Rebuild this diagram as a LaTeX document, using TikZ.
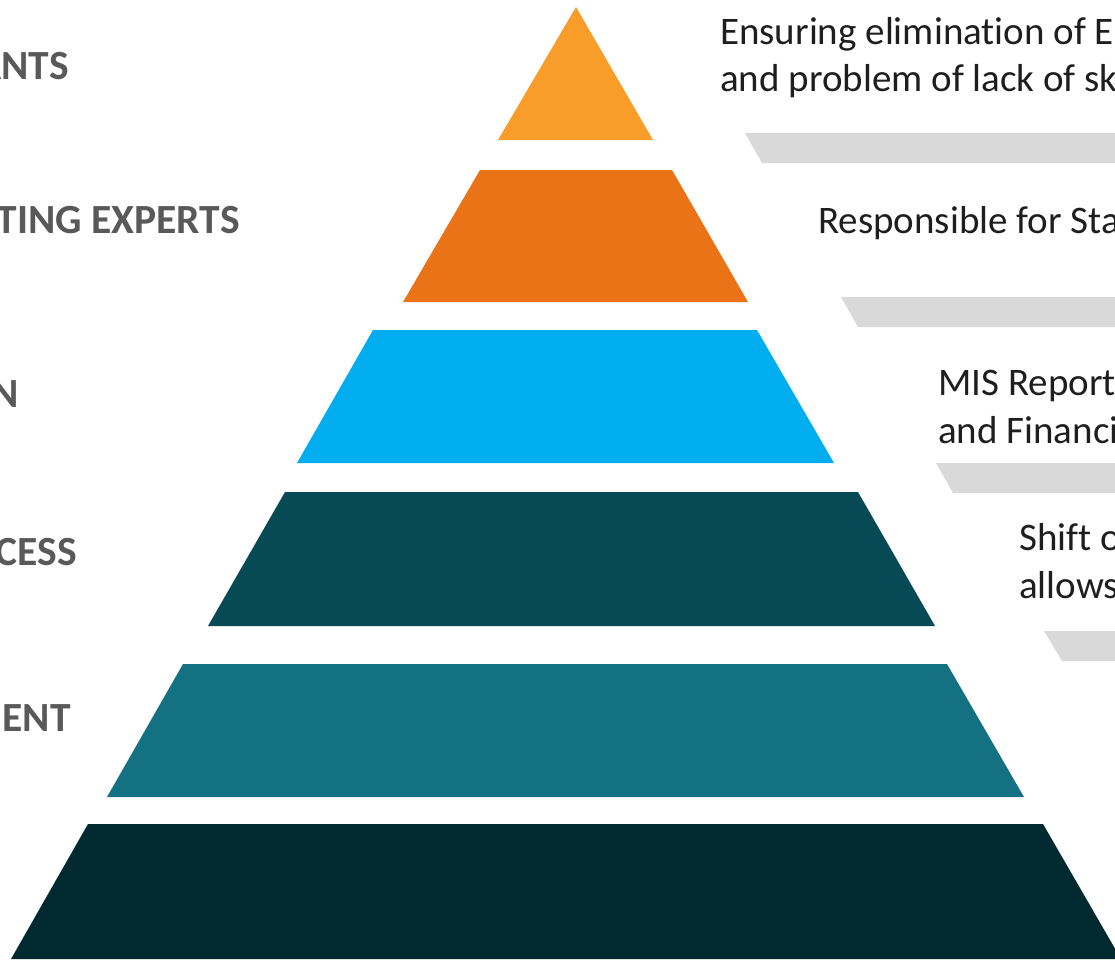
\documentclass[tikz,border=0pt]{standalone}
\usepackage{fontspec}
\setmainfont{Carlito}[RawFeature={-liga;-clig;-calt;-dlig}]
\definecolor{tipc}{HTML}{F89C2A}
\definecolor{orc}{HTML}{EB7317}
\definecolor{bluec}{HTML}{00AEEF}
\definecolor{darkc}{HTML}{074A56}
\definecolor{tealc}{HTML}{137182}
\definecolor{basec}{HTML}{002A30}
\definecolor{barc}{HTML}{D9D9D9}
\definecolor{labc}{HTML}{595959}
\definecolor{descc}{HTML}{1E1E1E}
\tikzset{
  layer/.style={fill=#1, draw=none},
  greybar/.style={fill=barc, draw=none},
  desctext/.style={anchor=base west, inner sep=0pt, text=descc, font=\fontsize{39}{47}\selectfont},
  labeltext/.style={anchor=base east, inner sep=0pt, text=labc, font=\fontsize{41.5}{48}\selectfont\bfseries}
}
\begin{document}
\begin{tikzpicture}[x=1pt,y=-1pt]
\useasboundingbox (0,0) rectangle (1115,959);
\clip (0,0) rectangle (1115,959);
% pyramid layers
\fill[layer=tipc] (576,7) -- (653,140) -- (498,140) -- cycle;
\fill[layer=orc] (480,170) -- (672,170) -- (748,302) -- (403,302) -- cycle;
\fill[layer=bluec] (373,330) -- (757,330) -- (834,463) -- (297,463) -- cycle;
\fill[layer=darkc] (285,492) -- (858,492) -- (935,626) -- (208,626) -- cycle;
\fill[layer=tealc] (183,664) -- (947,664) -- (1024,797) -- (107,797) -- cycle;
\fill[layer=basec] (88,824) -- (1043,824) -- (1121,959) -- (11,959) -- cycle;
% grey bars
\fill[greybar] (745,133) -- (1130,133) -- (1130,163) -- (762,163) -- cycle;
\fill[greybar] (841,297) -- (1130,297) -- (1130,327) -- (858,327) -- cycle;
\fill[greybar] (936,463) -- (1130,463) -- (1130,493) -- (953,493) -- cycle;
\fill[greybar] (1044,631) -- (1130,631) -- (1130,661) -- (1062,661) -- cycle;
% descriptions
\node[desctext] (d1a) at (720,44) {Ensuring elimination of E};
\node[desctext] (d1b) at (720,91) {and problem of lack of sk};
\node[desctext] (d2a) at (818,233) {Responsible for Sta};
\node[desctext] (d3a) at (938,395) {MIS Report};
\node[desctext] (d3b) at (938,443) {and Financi};
\node[desctext] (d4a) at (1019,550) {Shift o};
\node[desctext] (d4b) at (1019,598) {allows};
% labels
\node[labeltext] (l1) at (69,79) {ANTS};
\node[labeltext] (l2) at (240,233) {TING EXPERTS};
\node[labeltext] (l3) at (19,407) {N};
\node[labeltext] (l4) at (77,565) {CESS};
\node[labeltext] (l5) at (71,731) {ENT};
\end{tikzpicture}
\end{document}
